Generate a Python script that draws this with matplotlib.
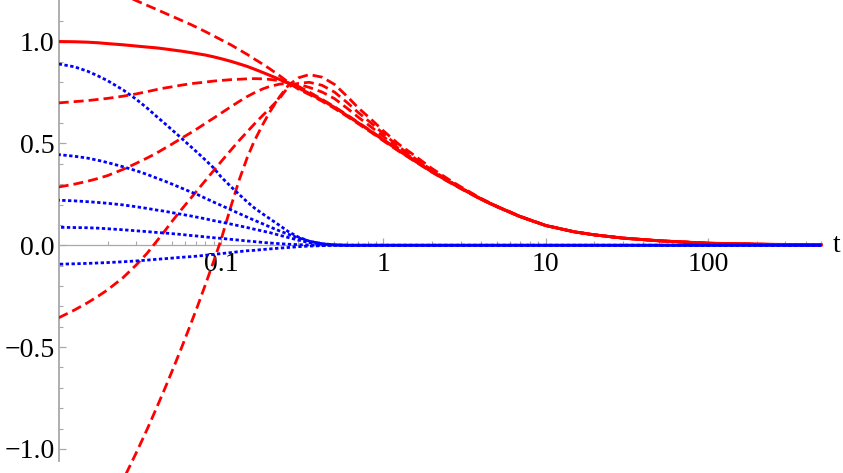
import matplotlib
matplotlib.use('Agg')
import matplotlib.pyplot as plt
import numpy as np
import matplotlib.transforms as mtransforms
from matplotlib.ticker import FixedLocator, FixedFormatter, NullFormatter

plt.rcParams['font.family'] = ['Liberation Serif', 'DejaVu Serif']

# ---- data ----
t = [0.01, 0.0125, 0.015, 0.0175, 0.02, 0.025, 0.03, 0.035, 0.04, 0.045,
     0.05, 0.057, 0.065, 0.072, 0.08, 0.09, 0.1, 0.115, 0.13, 0.145,
     0.16, 0.18, 0.2, 0.23, 0.26, 0.3, 0.35, 0.42, 0.5, 0.6,
     0.7, 0.85, 1, 1.25, 1.5, 2, 2.5, 3, 4, 5,
     7, 10, 15, 20, 30, 50, 70, 100, 200, 500]

red_solid = [1.0, 0.999, 0.997, 0.994, 0.99, 0.984, 0.978, 0.973, 0.969, 0.964,
             0.959, 0.953, 0.946, 0.94, 0.934, 0.925, 0.916, 0.903, 0.89, 0.878,
             0.865, 0.849, 0.834, 0.814, 0.795, 0.772, 0.745, 0.712, 0.677, 0.636,
             0.601, 0.556, 0.517, 0.464, 0.423, 0.36, 0.315, 0.28, 0.226, 0.19,
             0.14, 0.097, 0.066, 0.051, 0.035, 0.022, 0.016, 0.01, 0.005, 0.002]

red_d1 = [1.36, 1.33, 1.30, 1.28, 1.26, 1.23, 1.201, 1.178, 1.158, 1.14,
          1.124, 1.104, 1.084, 1.067, 1.049, 1.028, 1.009, 0.984, 0.959, 0.937,
          0.915, 0.89, 0.866, 0.832, 0.80, 0.766, 0.74, 0.707, 0.672, 0.632,
          0.597, 0.552, 0.513, 0.461, 0.421, 0.358, 0.313, 0.278, 0.225, 0.189,
          0.139, 0.097, 0.066, 0.051, 0.035, 0.022, 0.016, 0.01, 0.005, 0.002]

red_d2 = [0.699, 0.705, 0.71, 0.716, 0.721, 0.732, 0.743, 0.754, 0.764, 0.772,
          0.778, 0.786, 0.793, 0.797, 0.801, 0.806, 0.809, 0.813, 0.815, 0.817,
          0.818, 0.817, 0.814, 0.808, 0.798, 0.78, 0.752, 0.716, 0.68, 0.639,
          0.603, 0.558, 0.519, 0.466, 0.425, 0.361, 0.316, 0.281, 0.227, 0.19,
          0.14, 0.097, 0.066, 0.051, 0.035, 0.022, 0.016, 0.01, 0.005, 0.002]

red_d3 = [0.286, 0.30, 0.314, 0.328, 0.342, 0.373, 0.402, 0.428, 0.452, 0.476,
          0.497, 0.525, 0.552, 0.574, 0.598, 0.624, 0.648, 0.68, 0.707, 0.73,
          0.748, 0.767, 0.78, 0.791, 0.795, 0.79, 0.775, 0.752, 0.72, 0.672,
          0.629, 0.578, 0.534, 0.474, 0.43, 0.364, 0.318, 0.282, 0.227, 0.19,
          0.14, 0.097, 0.066, 0.051, 0.035, 0.022, 0.016, 0.01, 0.005, 0.002]

red_d4 = [-0.356, -0.318, -0.283, -0.25, -0.219, -0.158, -0.097, -0.04, 0.018, 0.07,
          0.118, 0.175, 0.23, 0.273, 0.317, 0.366, 0.41, 0.467, 0.516, 0.557,
          0.594, 0.636, 0.672, 0.722, 0.778, 0.795, 0.80, 0.785, 0.752, 0.70,
          0.652, 0.597, 0.548, 0.483, 0.437, 0.368, 0.32, 0.283, 0.228, 0.191,
          0.141, 0.097, 0.066, 0.051, 0.035, 0.022, 0.016, 0.01, 0.005, 0.002]

red_d5 = [np.nan, np.nan, -1.55, -1.42, -1.32, -1.15, -1.02, -0.905, -0.80, -0.705,
          -0.617, -0.505, -0.388, -0.295, -0.195, -0.08, 0.026, 0.19, 0.325, 0.43,
          0.51, 0.59, 0.655, 0.73, 0.785, 0.822, 0.838, 0.825, 0.79, 0.73,
          0.675, 0.615, 0.562, 0.495, 0.45, 0.376, 0.326, 0.287, 0.23, 0.192,
          0.142, 0.098, 0.066, 0.051, 0.035, 0.022, 0.016, 0.01, 0.005, 0.002]

blue_1 = [0.89, 0.876, 0.855, 0.831, 0.808, 0.762, 0.717, 0.674, 0.633, 0.598,
          0.566, 0.526, 0.485, 0.453, 0.419, 0.38, 0.336, 0.288, 0.248, 0.213,
          0.184, 0.155, 0.13, 0.097, 0.067, 0.04, 0.02, 0.007, 0.002, 0.0,
          0.0, 0.0, 0.0, 0.0, 0.0, 0.0, 0.0, 0.0, 0.0, 0.0,
          0.0, 0.0, 0.0, 0.0, 0.0, 0.0, 0.0, 0.0, 0.0, 0.0]

blue_2 = [0.445, 0.437, 0.428, 0.417, 0.406, 0.385, 0.366, 0.348, 0.33, 0.315,
          0.3, 0.281, 0.262, 0.248, 0.231, 0.212, 0.196, 0.174, 0.155, 0.138,
          0.123, 0.106, 0.09, 0.07, 0.054, 0.036, 0.02, 0.008, 0.002, 0.0,
          0.0, 0.0, 0.0, 0.0, 0.0, 0.0, 0.0, 0.0, 0.0, 0.0,
          0.0, 0.0, 0.0, 0.0, 0.0, 0.0, 0.0, 0.0, 0.0, 0.0]

blue_3 = [0.221, 0.218, 0.214, 0.21, 0.206, 0.198, 0.189, 0.181, 0.173, 0.167,
          0.16, 0.152, 0.144, 0.137, 0.13, 0.121, 0.114, 0.104, 0.095, 0.087,
          0.079, 0.07, 0.062, 0.049, 0.038, 0.025, 0.013, 0.005, 0.001, 0.0,
          0.0, 0.0, 0.0, 0.0, 0.0, 0.0, 0.0, 0.0, 0.0, 0.0,
          0.0, 0.0, 0.0, 0.0, 0.0, 0.0, 0.0, 0.0, 0.0, 0.0]

blue_4 = [0.088, 0.087, 0.086, 0.084, 0.081, 0.076, 0.071, 0.067, 0.063, 0.06,
          0.057, 0.053, 0.048, 0.045, 0.041, 0.037, 0.034, 0.029, 0.025, 0.021,
          0.018, 0.014, 0.011, 0.008, 0.005, 0.003, 0.001, 0.0, 0.0, 0.0,
          0.0, 0.0, 0.0, 0.0, 0.0, 0.0, 0.0, 0.0, 0.0, 0.0,
          0.0, 0.0, 0.0, 0.0, 0.0, 0.0, 0.0, 0.0, 0.0, 0.0]

blue_5 = [-0.093, -0.091, -0.089, -0.087, -0.085, -0.081, -0.077, -0.073, -0.069, -0.066,
          -0.063, -0.059, -0.056, -0.053, -0.049, -0.045, -0.041, -0.036, -0.031, -0.027,
          -0.025, -0.021, -0.018, -0.014, -0.011, -0.007, -0.004, -0.002, 0.0, 0.0,
          0.0, 0.0, 0.0, 0.0, 0.0, 0.0, 0.0, 0.0, 0.0, 0.0,
          0.0, 0.0, 0.0, 0.0, 0.0, 0.0, 0.0, 0.0, 0.0, 0.0]

x_ticks = [0.1, 1, 10, 100]
x_tick_labels = ['0.1', '1', '10', '100']
y_ticks = [-1.0, -0.5, 0.0, 0.5, 1.0]
y_tick_labels = ['\u22121.0', '\u22120.5', '0.0', '0.5', '1.0']

# ---- figure ----
W, H = 843, 473
fig = plt.figure(figsize=(W / 100, H / 100), dpi=100)
left_px = 58.7
ax = fig.add_axes([left_px / W, 0, 1 - left_px / W, 1])
ax.set_xscale('log')
ax.set_xlim(0.01, 679.6)
ax.set_ylim(-1.118, 1.204)

red = '#ff0000'
blue = '#0000ff'
dash = (3.6, 1.8)
for ys in [red_d1, red_d2, red_d3, red_d4, red_d5]:
    ax.plot(t, ys, color=red, lw=2.0, linestyle=(0, dash), zorder=3)
ax.plot(t, red_solid, color=red, lw=2.2, zorder=3)

for i, ys in enumerate([blue_1, blue_2, blue_3, blue_4, blue_5]):
    ax.plot(t, ys, color=blue, lw=2.0, linestyle=(0.42 * i, (1.2, 0.9)), zorder=4)

axis_gray = '#a8a8a8'
for s in ['top', 'right']:
    ax.spines[s].set_visible(False)
ax.spines['bottom'].set_position(('data', 0))
ax.spines['bottom'].set_bounds(0.01, 500)
ax.spines['bottom'].set_color(axis_gray)
ax.spines['bottom'].set_linewidth(0.9)
ax.spines['left'].set_bounds(-1.06, 1.204)
ax.spines['left'].set_color(axis_gray)
ax.spines['left'].set_linewidth(1.3)

ax.xaxis.set_major_locator(FixedLocator(x_ticks))
ax.xaxis.set_major_formatter(FixedFormatter(x_tick_labels))
xminor = [k * 10.0 ** e for e in range(-2, 3) for k in range(2, 10) if k * 10.0 ** e <= 500]
ax.xaxis.set_minor_locator(FixedLocator(xminor))
ax.xaxis.set_minor_formatter(NullFormatter())

ax.yaxis.set_major_locator(FixedLocator(y_ticks))
ax.yaxis.set_major_formatter(FixedFormatter(y_tick_labels))
yminor = [round(v, 1) for v in np.arange(-1.0, 1.15, 0.1) if round(v, 1) not in y_ticks]
ax.yaxis.set_minor_locator(FixedLocator(yminor))
ax.yaxis.set_minor_formatter(NullFormatter())

ax.tick_params(axis='both', which='both', direction='in', color=axis_gray,
               labelcolor='black', labelsize=20)
ax.tick_params(axis='both', which='major', length=5, width=0.9)
ax.tick_params(axis='both', which='minor', length=3, width=0.8)
ax.tick_params(axis='x', which='major', pad=4.5)
ax.tick_params(axis='y', which='major', pad=3)

trans = mtransforms.blended_transform_factory(ax.transAxes, ax.transData)
ax.text((837 - left_px) / (W - left_px), 0, 't', transform=trans, ha='center',
        va='center', fontsize=20)

fig.savefig('out.png', dpi=100)
